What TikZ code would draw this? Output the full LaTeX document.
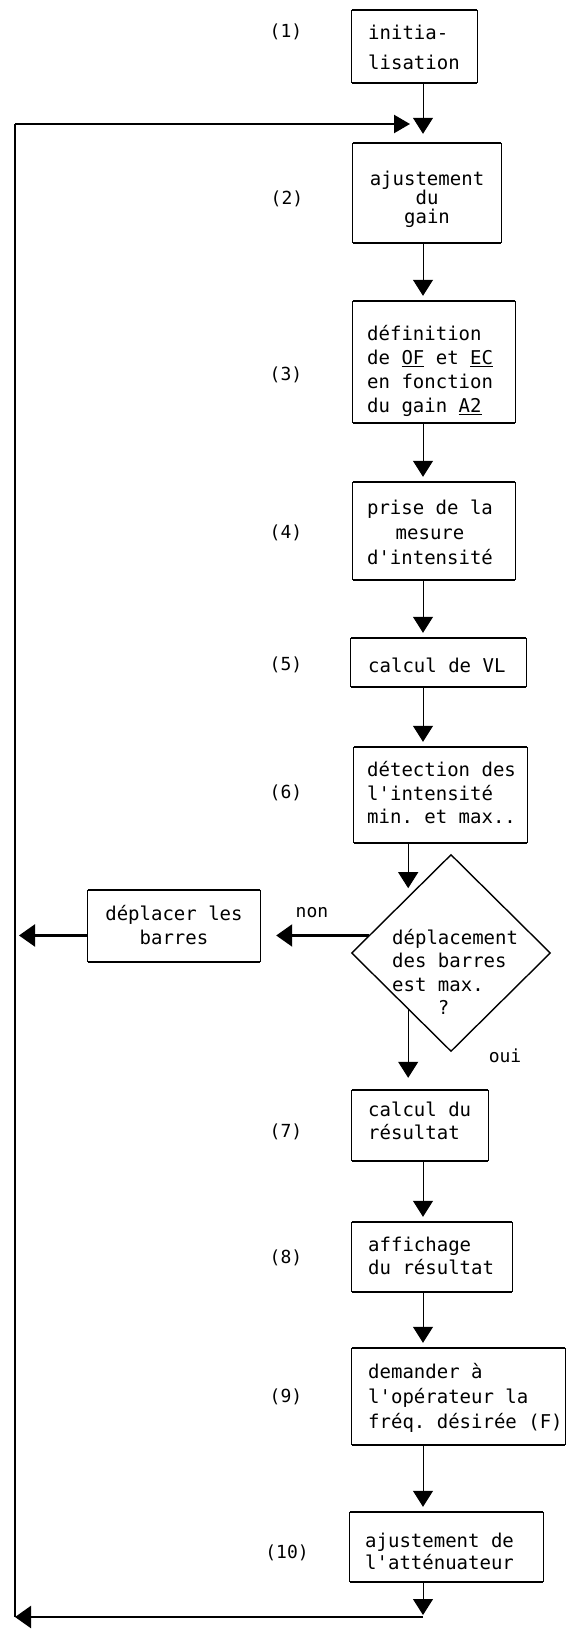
\documentclass[tikz,border=0pt]{standalone}
\usepackage{fontspec}
\setmonofont{DejaVu Sans Mono}
\usetikzlibrary{arrows.meta,shapes.geometric,calc}
\begin{document}
\begin{tikzpicture}[x=1pt,y=-1pt,
  stepbox/.style 2 args={rectangle,draw=none,inner sep=0pt,minimum width=#1,minimum height=#2},
  decision/.style 2 args={diamond,draw,line width=1.4pt,inner sep=0pt,minimum width=#1,minimum height=#2},
  txt/.style={inner sep=0pt,font=\ttfamily\fontsize{19}{#1}\selectfont,align=left,anchor=west},
  txt/.default=24,
  ctxt/.style={txt=#1,align=center,anchor=center},
  ctxt/.default=24,
  lbl/.style={inner sep=0pt,font=\ttfamily\fontsize{18}{22}\selectfont},
  boxside/.style={line width=1pt},
  boxedge/.style={line width=2pt},
  vline/.style={line width=1pt},
  hline/.style={line width=2.3pt},
  down/.style={vline,-{Triangle[length=16pt,width=20pt]},shorten >=5pt},
  lefta/.style={hline,-{Triangle[length=16pt,width=22pt]}}
]
\useasboundingbox (0,0) rectangle (566,1630);

% step boxes
\node[stepbox={125}{73}]  (b1)  at (414.5,46.5) {};
\node[stepbox={148}{100}] (b2)  at (427,193) {};
\node[stepbox={162}{122}] (b3)  at (434,362) {};
\node[stepbox={162}{98}]  (b4)  at (434,531) {};
\node[stepbox={175}{49}]  (b5)  at (438.5,662.5) {};
\node[stepbox={173}{96}]  (b6)  at (440.5,795) {};
\node[decision={199}{197}] (d) at (451,953) {};
\node[stepbox={172}{72}]  (bd)  at (174,926) {};
\node[stepbox={136}{71}]  (b7)  at (420,1125.5) {};
\node[stepbox={160}{70}]  (b8)  at (432,1257) {};
\node[stepbox={213}{97}]  (b9)  at (458.5,1396.5) {};
\node[stepbox={193}{70}]  (b10) at (446.5,1547) {};

\foreach \n in {b1,b2,b3,b4,b5,b6,b7,b8,b9,b10,bd}{
  \draw[boxside] (\n.north west) -- (\n.south west) (\n.north east) -- (\n.south east);
  \draw[boxedge] (\n.north west) -- (\n.north east) (\n.south west) -- (\n.south east);
}

% texts
\node[txt=30] (t1) at (368,47) {initia-\\lisation};
\node[ctxt=19] (t2) at (427,199) {ajustement\\du\\gain};
\node[txt=24] (t3) at (367,371) {définition\\de \underline{OF} et \underline{EC}\\en fonction\\du gain \underline{A2}};
\node[ctxt=25] (t4) at (430,532) {prise de la\\mesure\\d'intensité};
\node[txt] (t5) at (368,665) {calcul de VL};
\node[txt=23.5] (t6) at (367,793) {détection des\\l'intensité\\min. et max..};
\node[txt=23.5] (td) at (392,972) {déplacement\\des barres\\est max.\\\phantom{xxxx}?};
\node[ctxt=24] (tdep) at (174,925) {déplacer les\\barres};
\node[txt=23] (t7) at (368,1121) {calcul du\\résultat};
\node[txt=23] (t8) at (368,1256) {affichage\\du résultat};
\node[txt=25] (t9) at (368,1398) {demander à\\l'opérateur la\\fréq. désirée (F)};
\node[txt=22] (t10) at (365,1551) {ajustement de\\l'atténuateur};

% step numbers
\node[lbl] (l1) at (286,32) {(1)};
\node[lbl] (l2) at (287,199) {(2)};
\node[lbl] (l3) at (286,375) {(3)};
\node[lbl] (l4) at (286,533) {(4)};
\node[lbl] (l5) at (286,665) {(5)};
\node[lbl] (l6) at (286,793) {(6)};
\node[lbl] (l7) at (286,1132) {(7)};
\node[lbl] (l8) at (286,1258) {(8)};
\node[lbl] (l9) at (286,1397) {(9)};
\node[lbl] (l10) at (287,1553) {(10)};
\node[lbl] (non) at (312,913) {non};
\node[lbl] (oui) at (505,1056) {oui};

% helper coordinates
\coordinate (col) at (423,0);
\coordinate (Ltop) at (15,124);
\coordinate (Lbot) at (15,1617);

% connectors
\draw[down,shorten >=9pt] (b1.south -| col) -- (b2.north -| col);
\draw[down] (b2.south -| col) -- (b3.north -| col);
\draw[down] (b3.south -| col) -- (b4.north -| col);
\draw[down] (b4.south -| col) -- (b5.north -| col);
\draw[down] (b5.south -| col) -- (b6.north -| col);
\draw[down,shorten >=8pt] (b6.south -| d.127) -- (d.127);
\draw[down,shorten >=12pt] (d.233) -- (d.233 |- b7.north);
\draw[down] (b7.south -| col) -- (b8.north -| col);
\draw[down] (b8.south -| col) -- (b9.north -| col);
\draw[down] (b9.south -| col) -- (b10.north -| col);
\draw[down,shorten >=2pt] (b10.south -| col) -- (Lbot -| col);

\draw[lefta,shorten >=16pt] (d.168) -- (d.168 -| bd.east);
\coordinate (bdw) at (bd.west |- d.168);
\draw[lefta,shorten >=4pt] (bdw) -- (bdw -| Ltop);

\draw[lefta] (Lbot -| col) -- (Lbot);
\draw[vline,line width=1.4pt] (Lbot) -- (Ltop);
\draw[hline,-{Triangle[length=16pt,width=18pt]},shorten >=13pt] (Ltop) -- (Ltop -| col);
\end{tikzpicture}
\end{document}
